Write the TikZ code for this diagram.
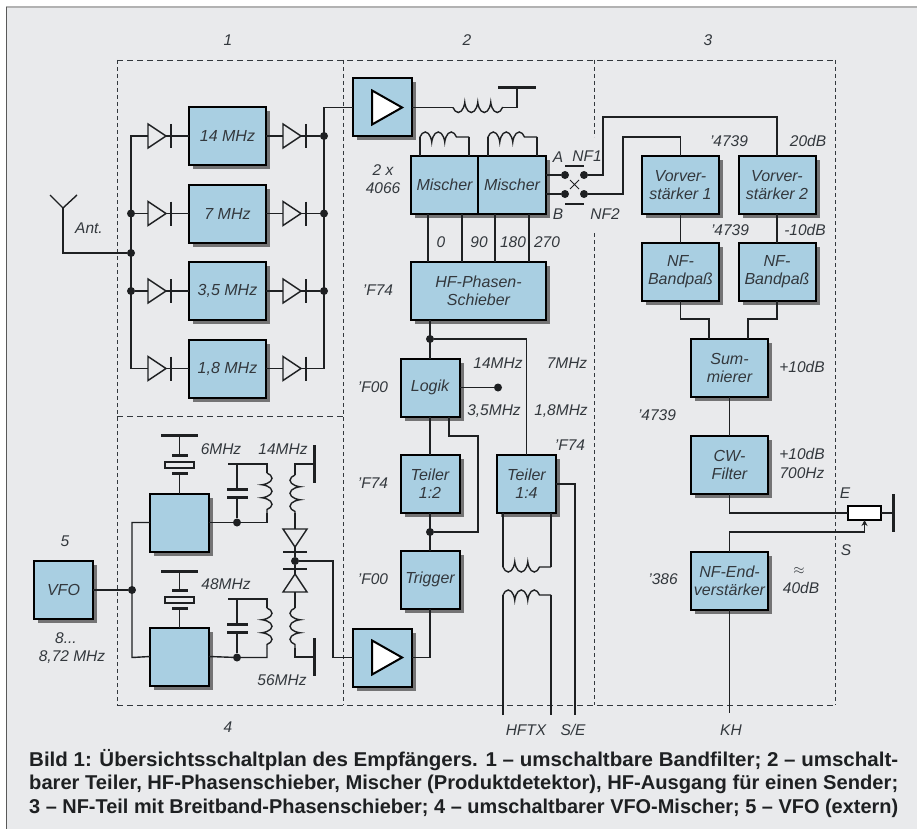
\documentclass[tikz,border=0pt]{standalone}
\usepackage{fontspec}
\usepackage{graphicx}
\setmainfont{Liberation Sans}
\usetikzlibrary{arrows.meta,positioning,shapes.geometric,shapes.misc,shadows,decorations.pathmorphing}
\definecolor{panelgray}{HTML}{E9EAEC}
\definecolor{blockblue}{HTML}{A9CFE2}
\definecolor{inkdark}{HTML}{1E2022}
\definecolor{labelgray}{HTML}{33383D}
\tikzset{
  wire/.style={draw=inkdark, line width=1.4pt},
  region/.style={draw=labelgray, line width=0.9pt, dash pattern=on 6pt off 4pt},
  regionv/.style={draw=labelgray, line width=0.9pt, dash pattern=on 4pt off 3pt},
  block/.style={rectangle, draw=black, line width=2pt, fill=blockblue, align=center,
                inner sep=0pt, outer sep=0pt, text=labelgray,
                font=\fontsize{16}{18}\selectfont\itshape,
                drop shadow={shadow xshift=4pt, shadow yshift=-4pt, fill=black, opacity=0.5}},
  wblock/.style={block, minimum width=77pt, minimum height=58pt},
  sblock/.style={block, minimum width=59pt, minimum height=58pt},
  lbl/.style={font=\fontsize{15.5}{18}\selectfont\itshape, text=labelgray, inner sep=0pt, align=center},
  caption/.style={font=\fontsize{20}{22}\selectfont\bfseries, text=inkdark, inner sep=0pt, anchor=base west},
  dot/.style={circle, fill=inkdark, inner sep=0pt, minimum size=8pt},
  bar/.style={rectangle, fill=inkdark, inner sep=0pt, outer sep=0pt, minimum height=3pt},
  vbar/.style={rectangle, fill=inkdark, inner sep=0pt, outer sep=0pt, minimum width=3pt},
  amptri/.style={isosceles triangle, isosceles triangle stretches, draw=black, line width=2pt,
                 fill=white, inner sep=0pt, minimum width=34pt, minimum height=30pt},
  coilup/.style={wire, decorate, decoration={coil, aspect=0.4, segment length=13pt, amplitude=5pt}},
  coildown/.style={wire, decorate, decoration={coil, aspect=0.4, segment length=13pt, amplitude=5pt, mirror}},
  diode/.pic={
    \draw[wire, fill=panelgray] (-9,-12) -- (9,0) -- (-9,12) -- cycle;
    \draw[wire] (9,0) -- (14,0);
    \draw[inkdark, line width=2.6pt] (14,-12) -- (14,12);
    \coordinate (-in) at (-9,0);
    \coordinate (-out) at (14,0);
  }
}
\begin{document}
\begin{tikzpicture}[x=1pt, y=-1pt]
  \useasboundingbox (0,0) rectangle (917,829);
  \fill[panelgray] (6,7) rectangle (917,829);
  \draw[gray!60, line width=1.2pt] (6,7) -- (917,7);
  \draw[black!65, line width=1pt] (6,7) -- (6,829);

  \draw[region] (117,60) -- (835,60);
  \draw[region] (117,416) -- (343,416);
  \draw[region] (117,705) -- (835,705);
  \draw[regionv] (117,60) -- (117,705);
  \draw[regionv] (343,60) -- (343,705);
  \draw[regionv] (594,60) -- (594,137);
  \draw[regionv] (594,233) -- (594,705);
  \draw[regionv] (835,60) -- (835,705);

  \node[lbl] (regA) at (228,40) {1};
  \node[lbl] (regB) at (467,40) {2};
  \node[lbl] (regC) at (708,40) {3};
  \node[lbl] (regD) at (228,727) {4};
  \node[lbl] (regE) at (65,541) {5};

  \node[wblock] (f14) at (227.5,136) {14 MHz};
  \node[wblock, below=19.5pt of f14] (f7) {7 MHz};
  \node[wblock, below=19.5pt of f7] (f3) {3,5 MHz};
  \node[wblock, below=19.5pt of f3] (f1) {1,8 MHz};

  \pic (dL14) at (157,136) {diode};
  \pic (dL7) at (157,213.5) {diode};
  \pic (dL3) at (157,291) {diode};
  \pic (dL1) at (157,368.5) {diode};
  \pic (dR14) at (292,136) {diode};
  \pic (dR7) at (292,213.5) {diode};
  \pic (dR3) at (292,291) {diode};
  \pic (dR1) at (292,368.5) {diode};

  \coordinate (busLtop) at (131,136);
  \coordinate (busLbot) at (131,368.5);
  \coordinate (busRtop) at (324,107.5);
  \coordinate (busRbot) at (324,368.5);
  \node[dot] (dotL7) at (131,213.5) {};
  \node[dot] (dotAnt) at (131,253) {};
  \node[dot] (dotL3) at (131,291) {};
  \node[dot] (dotR14) at (324,136) {};
  \node[dot] (dotR7) at (324,213.5) {};
  \node[dot] (dotR3) at (324,291) {};

  \draw[wire] (dL14-in) -- (busLtop) -- (busLbot) -- (dL1-in);
  \draw[wire] (dotL7) -- (dL7-in);
  \draw[wire] (dotL3) -- (dL3-in);
  \draw[wire] (dL14-out) -- (f14.west);
  \draw[wire] (dL7-out) -- (f7.west);
  \draw[wire] (dL3-out) -- (f3.west);
  \draw[wire] (dL1-out) -- (f1.west);
  \draw[wire] (f14.east) -- (dR14-in);
  \draw[wire] (f7.east) -- (dR7-in);
  \draw[wire] (f3.east) -- (dR3-in);
  \draw[wire] (f1.east) -- (dR1-in);
  \draw[wire] (dR14-out) -- (dotR14);
  \draw[wire] (dR7-out) -- (dotR7);
  \draw[wire] (dR3-out) -- (dotR3);

  \coordinate (antBase) at (63,253);
  \coordinate (antTip) at (63,208);
  \coordinate (antL) at (50,195);
  \coordinate (antR) at (77,195);
  \draw[wire] (dotAnt) -- (antBase) -- (antTip);
  \draw[wire] (antL) -- (antTip) -- (antR);
  \node[lbl] (lblAnt) at (89,228) {Ant.};

  \node[sblock] (ampTop) at (382.5,107.5) {};
  \node[amptri] (triTop) at (382,107.5) {};
  \draw[wire] (ampTop.west) -- (busRtop) -- (busRbot) -- (dR1-out);
  \coordinate (cTopA) at (453,107.5);
  \coordinate (cTopB) at (503,107.5);
  \node[bar, minimum width=38pt] (gndTop) at (517,88) {};
  \draw[wire] (ampTop.east) -- (cTopA);
  \draw[coildown] (cTopA) -- (cTopB);
  \draw[wire] (cTopB) -| (gndTop);

  \node[block, minimum width=67pt, minimum height=58pt] (micL) at (444.5,185) {Mischer};
  \node[block, minimum width=68pt, minimum height=58pt, right=0pt of micL] (micR) {Mischer};
  \coordinate (cLa) at (420,137);
  \coordinate (cLb) at (469,137);
  \coordinate (cRa) at (488,137);
  \coordinate (cRb) at (537,137);
  \draw[wire] (cLa |- micL.north) -- (cLa);
  \draw[coilup] (cLa) -- (cLb);
  \draw[wire] (cLb) -- (cLb |- micL.north);
  \draw[wire] (cRa |- micR.north) -- (cRa);
  \draw[coilup] (cRa) -- (cRb);
  \draw[wire] (cRb) -- (cRb |- micR.north);

  \node[lbl] (lblTwoX) at (383,170) {2 x};
  \node[lbl] (lblCmos) at (383,188) {4066};
  \node[block, minimum width=135pt, minimum height=58pt] (phase) at (478.5,291) {HF-Phasen-\\Schieber};
  \node[lbl] (lblPhIc) at (378,290) {'F74};

  \coordinate (phA) at (428,214);
  \coordinate (phB) at (462,214);
  \coordinate (phC) at (495,214);
  \coordinate (phD) at (529,214);
  \draw[wire] (phA) -- (phA |- phase.north);
  \draw[wire] (phB) -- (phB |- phase.north);
  \draw[wire] (phC) -- (phC |- phase.north);
  \draw[wire] (phD) -- (phD |- phase.north);
  \node[lbl] (lblZero) at (441,242) {0};
  \node[lbl] (lblNinety) at (479,242) {90};
  \node[lbl] (lblOneEighty) at (513,242) {180};
  \node[lbl] (lblTwoSeventy) at (547,242) {270};

  \node[dot] (swA) at (565,175) {};
  \node[dot] (swB) at (584,175) {};
  \node[dot] (swC) at (565,194) {};
  \node[dot] (swD) at (584,194) {};
  \node[cross out, draw=inkdark, line width=1pt, inner sep=0pt, minimum size=8pt] (swX) at (574.5,184.5) {};
  \node[bar, minimum height=2pt, minimum width=19pt] (swTop) at (574.5,166) {};
  \node[bar, minimum height=2pt, minimum width=19pt] (swBot) at (574.5,204) {};
  \draw[wire] (swA -| micR.east) -- (swA);
  \draw[wire] (swC -| micR.east) -- (swC);
  \node[lbl] (lblSwA) at (558,157) {A};
  \node[lbl] (lblNfOne) at (587,156) {NF1};
  \node[lbl] (lblSwB) at (558,214) {B};
  \node[lbl] (lblNfTwo) at (605,214) {NF2};

  \node[sblock] (logik) at (430,387.5) {Logik};
  \node[sblock, below=38pt of logik] (teilerA) {Teiler\\1:2};
  \node[sblock, below=38pt of teilerA] (trigger) {Trigger};
  \node[sblock] (teilerB) at (526.5,484) {Teiler\\1:4};
  \node[sblock] (ampBot) at (382.5,657.5) {};
  \node[amptri] (triBot) at (382,657.5) {};

  \node[dot] (dotPh) at (430,339) {};
  \node[dot] (dotLog) at (498,387.5) {};
  \node[dot] (dotTrig) at (430,532) {};
  \coordinate (logTap) at (449,417);
  \coordinate (retTurn) at (478,436);
  \draw[wire] (logik.north |- phase.south) -- (logik.north);
  \draw[wire] (dotPh) -| (teilerB.north);
  \draw[wire] (logik.east) -- (dotLog);
  \draw[wire] (logik.south) -- (teilerA.north);
  \draw[wire] (teilerA.south) -- (trigger.north);
  \draw[wire] (logTap) |- (retTurn) |- (dotTrig);
  \draw[wire] (trigger.south) |- (ampBot.east);

  \node[lbl] (lblFqA) at (498,363) {14MHz};
  \node[lbl] (lblFqB) at (567,363) {7MHz};
  \node[lbl] (lblFqC) at (494,411) {3,5MHz};
  \node[lbl] (lblFqD) at (561,411) {1,8MHz};
  \node[lbl] (lblLogIc) at (373,387) {'F00};
  \node[lbl] (lblTeilIc) at (373,483) {'F74};
  \node[lbl] (lblTrigIc) at (373,579) {'F00};
  \node[lbl] (lblTeilBIc) at (570,445) {'F74};

  \coordinate (seEnd) at (575,715);
  \coordinate (tfUa) at (503,567);
  \coordinate (tfUb) at (551,567);
  \coordinate (tfLa) at (503,595);
  \coordinate (tfLb) at (551,595);
  \coordinate (txA) at (503,715);
  \coordinate (txB) at (551,715);
  \draw[wire] (teilerB.east) -| (seEnd);
  \draw[wire] (tfUa |- teilerB.south) -- (tfUa);
  \draw[coildown] (tfUa) -- (tfUb);
  \draw[wire] (tfUb) -- (tfUb |- teilerB.south);
  \draw[wire] (txA) -- (tfLa);
  \draw[coilup] (tfLa) -- (tfLb);
  \draw[wire] (tfLb) -- (txB);
  \node[lbl] (lblTx) at (526,730) {HFTX};
  \node[lbl] (lblSe) at (573,730) {S/E};

  \node[wblock] (vorA) at (680.5,185) {Vorver-\\stärker 1};
  \node[wblock, right=19.5pt of vorA] (vorB) {Vorver-\\stärker 2};
  \node[wblock, below=29pt of vorA] (passA) {NF-\\Bandpaß};
  \node[wblock, below=29pt of vorB] (passB) {NF-\\Bandpaß};
  \node[wblock] (summ) at (729.5,367.5) {Sum-\\mierer};
  \node[wblock, below=39pt of summ] (cwf) {CW-\\Filter};
  \node[wblock, below=58pt of cwf] (endamp) {NF-End-\\verstärker};

  \coordinate (nfOne) at (603,117);
  \coordinate (nfTwo) at (623,137);
  \coordinate (sumL) at (709,319);
  \coordinate (sumR) at (748,319);
  \coordinate (khEnd) at (729.5,713);
  \draw[wire] (swB) -| (nfOne) -| (vorB.north);
  \draw[wire] (swD) -| (nfTwo) -| (vorA.north);
  \draw[wire] (vorA.south) -- (passA.north);
  \draw[wire] (vorB.south) -- (passB.north);
  \draw[wire] (passA.south) |- (sumL) -- (sumL |- summ.north);
  \draw[wire] (passB.south) |- (sumR) -- (sumR |- summ.north);
  \draw[wire] (summ.south) -- (cwf.north);
  \draw[wire] (endamp.south) -- (khEnd);

  \node[lbl] (lblVorA) at (729,141) {'4739};
  \node[lbl] (lblGainA) at (808,141) {20dB};
  \node[lbl] (lblVorB) at (730,230) {'4739};
  \node[lbl] (lblGainB) at (805,230) {-10dB};
  \node[lbl] (lblGainC) at (802,367) {+10dB};
  \node[lbl] (lblSumIc) at (657,415) {'4739};
  \node[lbl] (lblGainD) at (802,454) {+10dB};
  \node[lbl] (lblCwHz) at (802,473) {700Hz};
  \node[lbl] (lblEndIc) at (663,579) {'386};
  \node[lbl] (lblApprox) at (799,571) {$\approx$};
  \node[lbl] (lblGainE) at (801,588) {40dB};
  \node[lbl] (lblKh) at (731,730) {KH};
  \node[lbl] (lblE) at (845,493) {E};
  \node[lbl] (lblS) at (846,550) {S};

  \node[rectangle, draw=black, line width=2pt, fill=white, inner sep=0pt, outer sep=0pt,
        minimum width=33pt, minimum height=14pt] (pot) at (864.5,513) {};
  \node[vbar, minimum height=38pt] (potGnd) at (893,513) {};
  \coordinate (wiper) at (864.5,532);
  \draw[wire] (cwf.south) |- (pot.west);
  \draw[wire] (pot.east) -- (potGnd);
  \draw[wire] (endamp.north) |- (wiper);
  \draw[wire, -{Stealth[length=6pt, width=6pt]}] (wiper) -- (pot.south);

  \node[sblock] (vfo) at (63.5,590) {VFO};
  \node[lbl] (lblVfoA) at (66,638) {8...};
  \node[lbl] (lblVfoB) at (72,657) {8,72 MHz};
  \node[sblock] (mixA) at (179.5,522.5) {};
  \node[sblock, below=76pt of mixA] (mixB) {};
  \node[dot] (dotVfo) at (132,590) {};
  \coordinate (vfoUp) at (132,522.5);
  \coordinate (vfoDn) at (132,657.5);
  \draw[wire] (vfo.east) -- (dotVfo);
  \draw[wire] (mixA.west) -- (vfoUp) -- (vfoDn) -- (mixB.west);

  \node[bar, minimum width=37pt] (gndXa) at (179.5,435) {};
  \node[bar, minimum width=16pt] (xaTop) at (179.5,455) {};
  \node[rectangle, draw=inkdark, line width=1.4pt, fill=panelgray, inner sep=0pt,
        minimum width=29pt, minimum height=6pt] (xa) at (179.5,465) {};
  \node[bar, minimum width=16pt] (xaBot) at (179.5,473) {};
  \draw[wire] (gndXa) -- (xaTop);
  \draw[wire] (xaBot) -- (mixA.north);

  \node[bar, minimum width=37pt] (gndXb) at (179.5,571) {};
  \node[bar, minimum width=16pt] (xbTop) at (179.5,590) {};
  \node[rectangle, draw=inkdark, line width=1.4pt, fill=panelgray, inner sep=0pt,
        minimum width=29pt, minimum height=6pt] (xb) at (179.5,600) {};
  \node[bar, minimum width=16pt] (xbBot) at (179.5,608) {};
  \draw[wire] (gndXb) -- (xbTop);
  \draw[wire] (xbBot) -- (mixB.north);

  \node[dot] (dotLcA) at (237,522.5) {};
  \node[bar, minimum width=21pt] (capAt) at (237,489) {};
  \node[bar, minimum width=21pt] (capAb) at (237,497) {};
  \coordinate (lcAstub) at (228,464);
  \coordinate (lcAtop) at (237,464);
  \coordinate (lcAa) at (267,473);
  \coordinate (lcAb) at (267,513);
  \draw[wire] (mixA.east) -- (dotLcA) -| (lcAb);
  \draw[wire] (dotLcA) -- (capAb);
  \draw[wire] (capAt) -- (lcAtop);
  \draw[wire] (lcAstub) -| (lcAa);
  \draw[coilup] (lcAa) -- (lcAb);

  \node[dot] (dotLcB) at (237,657.5) {};
  \node[bar, minimum width=21pt] (capBt) at (237,624) {};
  \node[bar, minimum width=21pt] (capBb) at (237,632) {};
  \coordinate (lcBstub) at (228,599);
  \coordinate (lcBtop) at (237,599);
  \coordinate (lcBa) at (267,608);
  \coordinate (lcBb) at (267,648);
  \draw[wire] (mixB.east) -- (dotLcB) -| (lcBb);
  \draw[wire] (dotLcB) -- (capBb);
  \draw[wire] (capBt) -- (lcBtop);
  \draw[wire] (lcBstub) -| (lcBa);
  \draw[coilup] (lcBa) -- (lcBb);

  \node[vbar, minimum height=38pt] (gndSa) at (314,464) {};
  \node[vbar, minimum height=38pt] (gndSb) at (314,657) {};
  \coordinate (secAa) at (295,475);
  \coordinate (secAb) at (295,513);
  \coordinate (secBa) at (295,608);
  \coordinate (secBb) at (295,648);
  \coordinate (outTurn) at (333,561);
  \node[dot] (dotSec) at (295,561) {};
  \pic[rotate=-90] (dSa) at (295,538) {diode};
  \pic[rotate=90] (dSb) at (295,583) {diode};
  \draw[wire] (gndSa) -| (secAa);
  \draw[coildown] (secAa) -- (secAb);
  \draw[wire] (secAb) -- (dSa-in);
  \draw[wire] (dSa-out) -- (dotSec) -- (dSb-out);
  \draw[wire] (dSb-in) -- (secBa);
  \draw[coildown] (secBa) -- (secBb);
  \draw[wire] (secBb) |- (gndSb);
  \draw[wire] (dotSec) -| (outTurn) |- (ampBot.west);

  \node[lbl] (lblSixM) at (221,449) {6MHz};
  \node[lbl] (lblFourteenM) at (283,449) {14MHz};
  \node[lbl] (lblFortyEight) at (226,584) {48MHz};
  \node[lbl] (lblFiftySix) at (282,680) {56MHz};

  \node[caption] (capLineA) at (29,766) {\resizebox{869pt}{\height}{Bild 1: Übersichtsschaltplan des Empfängers. 1 – umschaltbare Bandfilter; 2 – umschalt-}};
  \node[caption] (capLineB) at (29,789.5) {\resizebox{869pt}{\height}{barer Teiler, HF-Phasenschieber, Mischer (Produktdetektor), HF-Ausgang für einen Sender;}};
  \node[caption] (capLineC) at (29,813) {\resizebox{869pt}{\height}{3 – NF-Teil mit Breitband-Phasenschieber; 4 – umschaltbarer VFO-Mischer; 5 – VFO (extern)}};
\end{tikzpicture}
\end{document}
